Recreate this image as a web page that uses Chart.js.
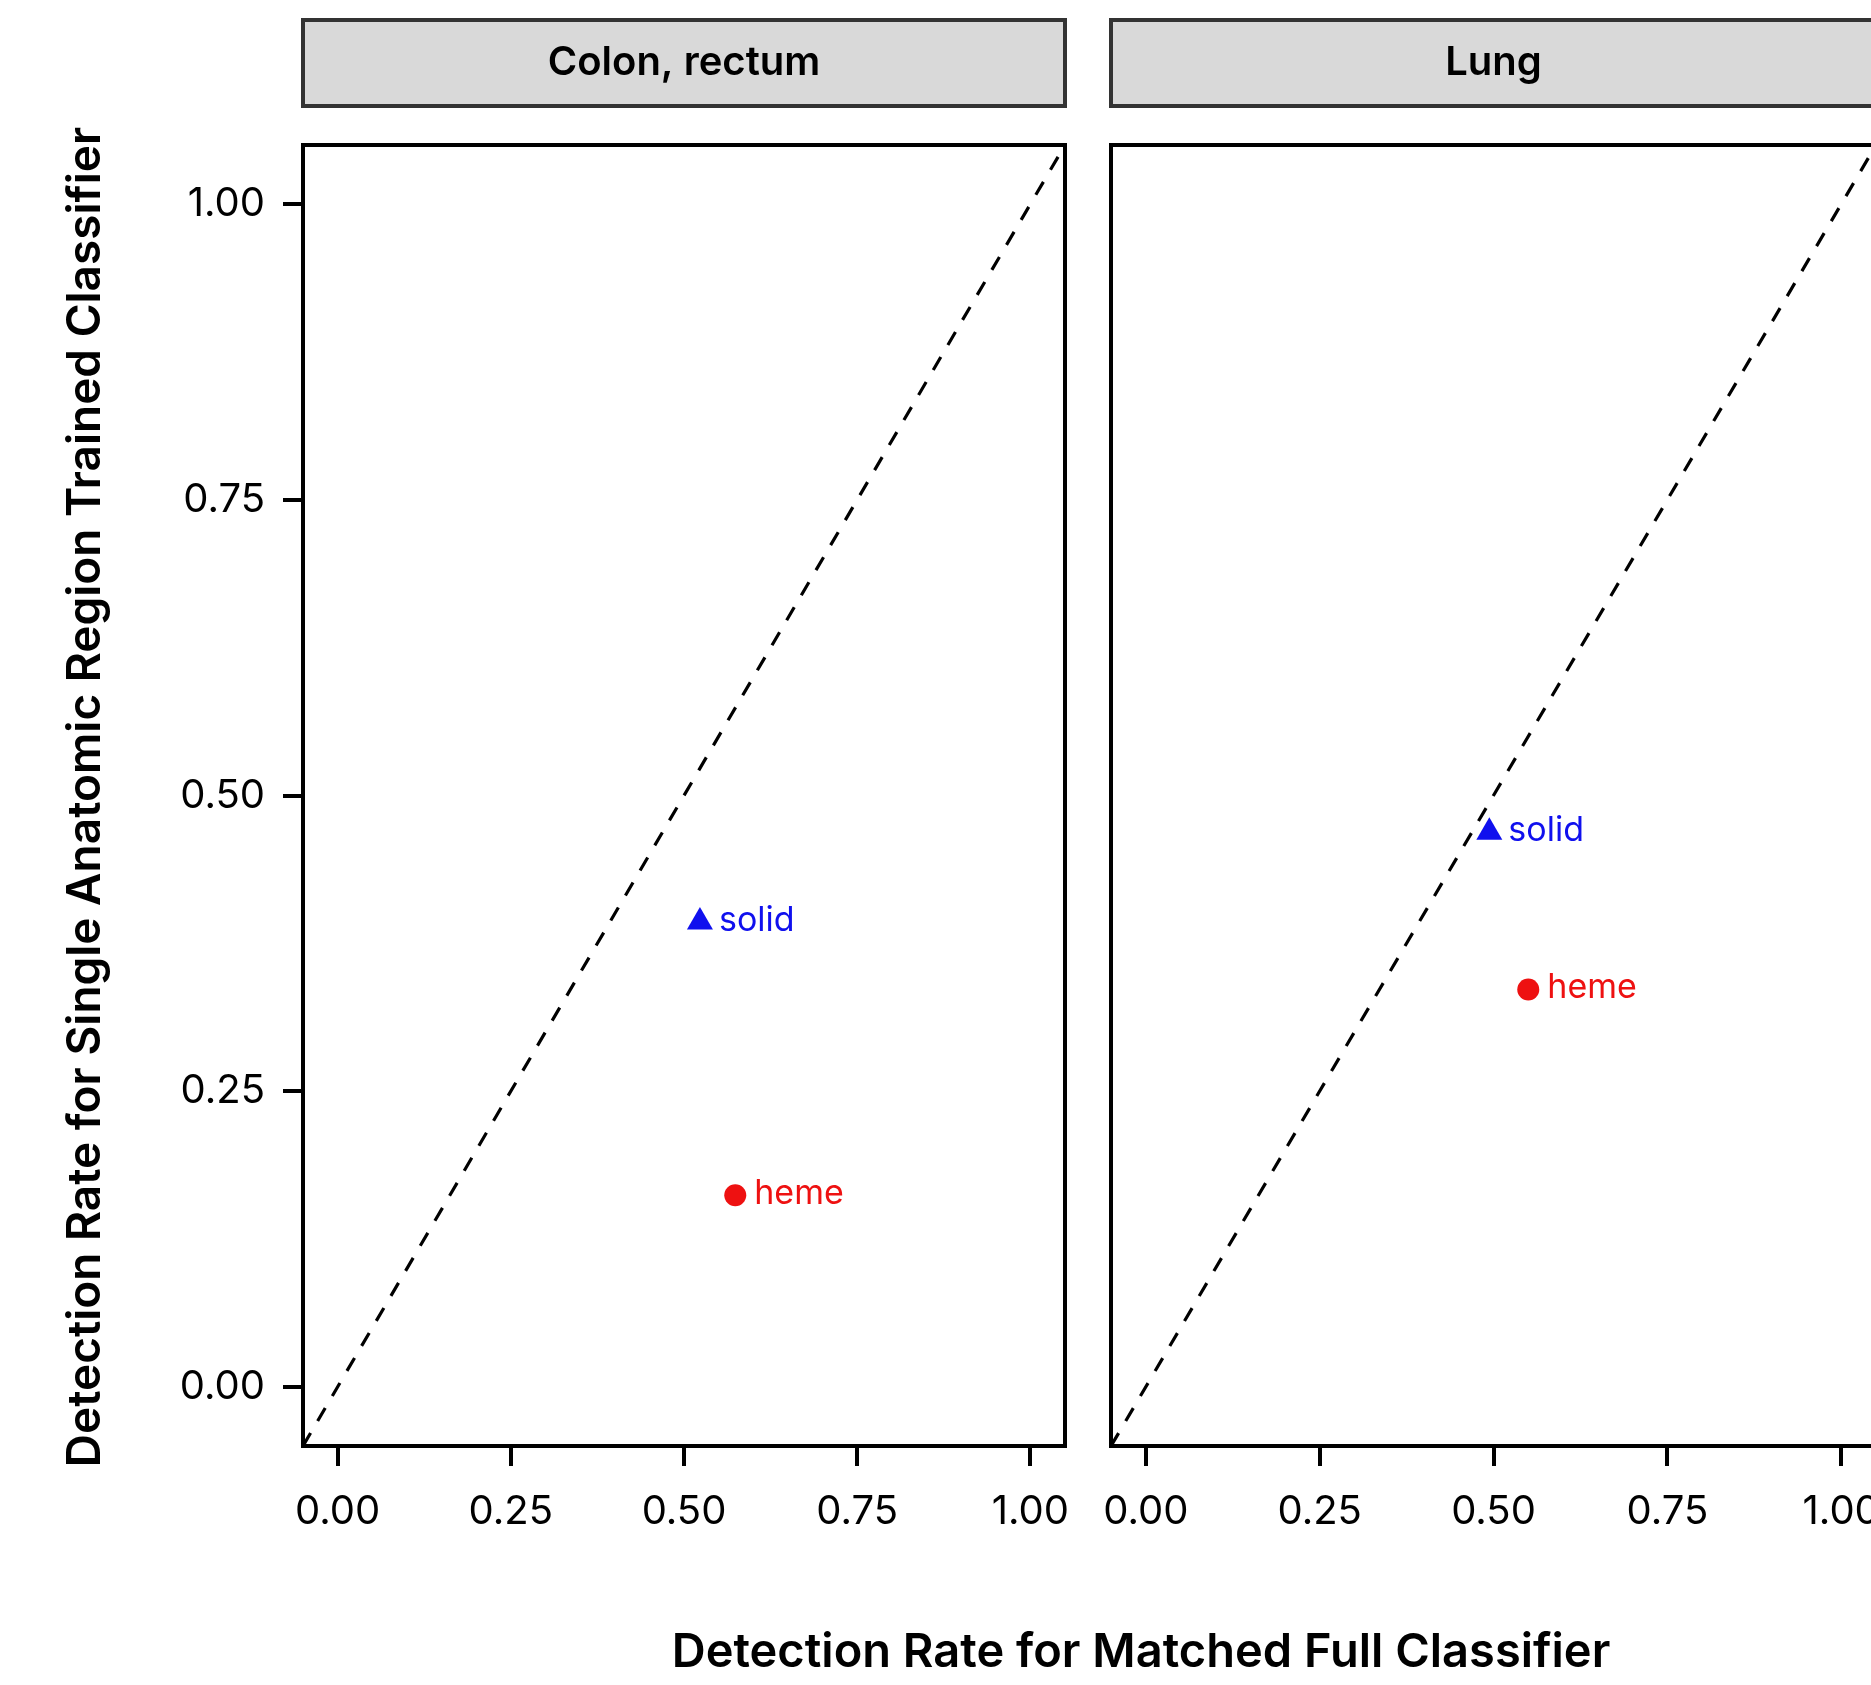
<!DOCTYPE html>
<html lang="en">
<head>
    <meta charset="UTF-8">
    <title>Detection rate by anatomic region</title>
    <script src="https://cdn.jsdelivr.net/npm/chart.js"></script>
    <style>
        html, body { margin: 0; padding: 0; background: #fff; overflow: hidden; }
        body { width: 1871px; height: 1685px; position: relative; }
        canvas { position: absolute; left: 0; top: 0; }
    </style>
</head>
<body>
    <canvas id="colonChart" width="1871" height="1685"></canvas>
    <canvas id="lungChart" width="1940" height="1685"></canvas>

    <script>
        // data
        const groups = ['solid', 'heme'];
        const colonFull = [0.523, 0.574];
        const colonSingle = [0.393, 0.162];
        const lungFull = [0.494, 0.550];
        const lungSingle = [0.469, 0.336];
        const tickValues = [0, 0.25, 0.5, 0.75, 1];
        const axisRange = [-0.05, 1.05];
        const diagonal = [-0.05, 1.05];

        const groupColor = { solid: '#1010ee', heme: '#ee1111' };
        const groupShape = { solid: 'triangle', heme: 'circle' };
        const groupRadius = { solid: 15, heme: 11 };

        const FONT = 'Inter, "Noto Sans", sans-serif';

        // box, facet strip and point labels
        const panelDecor = {
            id: 'panelDecor',
            afterDatasetsDraw(chart, args, opts) {
                const ctx = chart.ctx;
                const a = chart.chartArea;
                const xs = chart.scales.x, ys = chart.scales.y;
                ctx.save();

                // text labels next to the points
                ctx.font = '34px ' + FONT;
                ctx.textAlign = 'left';
                ctx.textBaseline = 'alphabetic';
                chart.data.datasets.forEach(ds => {
                    if (!ds.group) return;
                    ds.data.forEach(p => {
                        ctx.fillStyle = ds.pointBackgroundColor;
                        ctx.fillText(ds.group, xs.getPixelForValue(p.x) + 19, ys.getPixelForValue(p.y) + 9);
                    });
                });

                // panel border
                ctx.strokeStyle = '#000';
                ctx.lineWidth = 4;
                ctx.strokeRect(a.left, a.top, a.right - a.left, a.bottom - a.top);

                // strip
                ctx.fillStyle = '#d9d9d9';
                ctx.fillRect(a.left, 20, a.right - a.left, 86);
                ctx.strokeStyle = '#333';
                ctx.lineWidth = 4;
                ctx.strokeRect(a.left, 20, a.right - a.left, 86);
                ctx.fillStyle = '#000';
                ctx.font = '600 40px ' + FONT;
                ctx.textAlign = 'center';
                ctx.textBaseline = 'middle';
                ctx.fillText(opts.strip, (a.left + a.right) / 2, 63);

                // shared axis titles, drawn once from the first panel
                if (opts.titles) {
                    ctx.font = '600 47px ' + FONT;
                    ctx.textBaseline = 'alphabetic';
                    ctx.fillText('Detection Rate for Matched Full Classifier', 1141, 1667);
                    ctx.font = '600 46px ' + FONT;
                    ctx.translate(100, 797);
                    ctx.rotate(-Math.PI / 2);
                    ctx.fillText('Detection Rate for Single Anatomic Region Trained Classifier', 0, 0);
                }
                ctx.restore();
            }
        };

        function fixTicks(scale) {
            scale.ticks = tickValues.map(v => ({ value: v }));
        }

        function makePanel(id, strip, fullVals, singleVals, box, showY) {
            const datasets = [{
                type: 'line',
                data: diagonal.map(v => ({ x: v, y: v })),
                borderColor: '#000',
                borderWidth: 3.2,
                borderDash: [15, 14],
                pointRadius: 0,
                fill: false
            }];
            groups.forEach((g, i) => {
                datasets.push({
                    group: g,
                    data: [{ x: fullVals[i], y: singleVals[i] }],
                    pointStyle: groupShape[g],
                    pointRadius: groupRadius[g],
                    pointBackgroundColor: groupColor[g],
                    pointBorderColor: groupColor[g],
                    pointBorderWidth: 0
                });
            });

            const tickFont = { family: FONT, size: 40 };
            return new Chart(document.getElementById(id), {
                type: 'scatter',
                data: { datasets },
                options: {
                    responsive: false,
                    animation: false,
                    events: [],
                    layout: { autoPadding: false, padding: box },
                    plugins: {
                        legend: { display: false },
                        tooltip: { enabled: false },
                        panelDecor: { strip, titles: showY }
                    },
                    scales: {
                        x: {
                            type: 'linear',
                            min: axisRange[0], max: axisRange[1],
                            afterBuildTicks: fixTicks,
                            afterFit: s => { s.height = 100; },
                            border: { display: false },
                            grid: { drawOnChartArea: false, tickLength: 20, lineWidth: 4, color: '#000', tickColor: '#000' },
                            ticks: { color: '#000', font: tickFont, padding: 22, maxRotation: 0, callback: v => v.toFixed(2) }
                        },
                        y: {
                            type: 'linear',
                            display: showY,
                            min: axisRange[0], max: axisRange[1],
                            afterBuildTicks: fixTicks,
                            afterFit: s => { if (showY) s.width = 303; },
                            border: { display: false },
                            grid: { drawOnChartArea: false, tickLength: 20, lineWidth: 4, color: '#000', tickColor: '#000' },
                            ticks: { color: '#000', font: tickFont, padding: 18, callback: v => v.toFixed(2) }
                        }
                    }
                },
                plugins: [panelDecor]
            });
        }

        makePanel('colonChart', 'Colon, rectum', colonFull, colonSingle,
            { left: 0, top: 145, right: 1871 - 1065, bottom: 1685 - 1446 - 100 }, true);
        makePanel('lungChart', 'Lung', lungFull, lungSingle,
            { left: 1111, top: 145, right: 1940 - 1876, bottom: 1685 - 1446 - 100 }, false);
    </script>
</body>
</html>
